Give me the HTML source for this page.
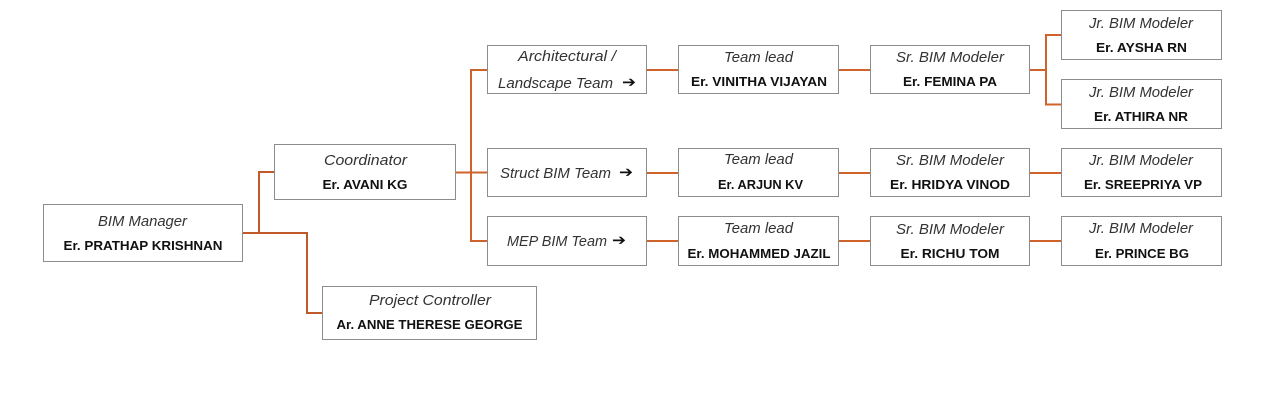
<!DOCTYPE html>
<html><head><meta charset="utf-8">
<style>
html,body{margin:0;padding:0;background:#fff;width:1280px;height:401px;overflow:hidden}
svg{display:block}
.b{fill:#fff;stroke:#8c8c8c;stroke-width:1}
.l{fill:none;stroke:#cf632c;stroke-width:2}
.d{fill:none;stroke:#c05a2a;stroke-width:2}
text{font-family:"Liberation Sans",sans-serif;fill:#222}
.i{font-style:italic;font-size:15px;fill:#333}
.s{font-weight:bold;font-size:13px;fill:#111}
.a{font-family:"DejaVu Sans",sans-serif;font-size:15px;font-weight:bold;fill:#111}
</style></head><body>
<svg width="1280" height="401" viewBox="0 0 1280 401" xmlns="http://www.w3.org/2000/svg">
<path class="d" d="M243 233H307V313H322"/>
<path class="d" d="M259 233V172H274"/>
<path class="l" d="M456 172.500H487"/>
<path class="l" d="M487 70H471V241H487"/>
<path class="l" d="M647 70H678M838 70H870M1030 70H1046"/>
<path class="l" d="M1061 35H1046V104.500H1061"/>
<path class="l" d="M647 173H678M838 173H870M1030 173H1061"/>
<path class="l" d="M647 241H678M838 241H870M1030 241H1061"/>

<rect class="b" x="43.500" y="204.500" width="199" height="57"/>
<rect class="b" x="274.500" y="144.500" width="181" height="55"/>
<rect class="b" x="322.500" y="286.500" width="214" height="53"/>
<rect class="b" x="487.500" y="45.500" width="159" height="48"/>
<rect class="b" x="487.500" y="148.500" width="159" height="48"/>
<rect class="b" x="487.500" y="216.500" width="159" height="49"/>
<rect class="b" x="678.500" y="45.500" width="160" height="48"/>
<rect class="b" x="678.500" y="148.500" width="160" height="48"/>
<rect class="b" x="678.500" y="216.500" width="160" height="49"/>
<rect class="b" x="870.500" y="45.500" width="159" height="48"/>
<rect class="b" x="870.500" y="148.500" width="159" height="48"/>
<rect class="b" x="870.500" y="216.500" width="159" height="49"/>
<rect class="b" x="1061.500" y="10.500" width="160" height="49"/>
<rect class="b" x="1061.500" y="79.500" width="160" height="49"/>
<rect class="b" x="1061.500" y="148.500" width="160" height="48"/>
<rect class="b" x="1061.500" y="216.500" width="160" height="49"/>

<text class="i" x="98" y="226" textLength="89" lengthAdjust="spacingAndGlyphs">BIM Manager</text>
<text class="s" x="63.500" y="250" textLength="159" lengthAdjust="spacingAndGlyphs">Er. PRATHAP KRISHNAN</text>
<text class="i" x="324" y="165" textLength="83" lengthAdjust="spacingAndGlyphs">Coordinator</text>
<text class="s" x="322.500" y="189" textLength="85" lengthAdjust="spacingAndGlyphs">Er. AVANI KG</text>
<text class="i" x="369" y="305" textLength="122" lengthAdjust="spacingAndGlyphs">Project Controller</text>
<text class="s" x="336.500" y="329" textLength="186" lengthAdjust="spacingAndGlyphs">Ar. ANNE THERESE GEORGE</text>

<text class="i" x="518" y="61" textLength="98" lengthAdjust="spacingAndGlyphs">Architectural /</text>
<text class="i" x="498" y="88" textLength="115" lengthAdjust="spacingAndGlyphs">Landscape Team</text>
<text class="a" x="622" y="87" textLength="14" lengthAdjust="spacingAndGlyphs">➔</text>
<text class="i" x="500" y="178" textLength="111" lengthAdjust="spacingAndGlyphs">Struct BIM Team</text>
<text class="a" x="619" y="177" textLength="14" lengthAdjust="spacingAndGlyphs">➔</text>
<text class="i" x="507" y="246" textLength="100" lengthAdjust="spacingAndGlyphs">MEP BIM Team</text>
<text class="a" x="612" y="245" textLength="14" lengthAdjust="spacingAndGlyphs">➔</text>

<text class="i" x="724" y="62" textLength="69" lengthAdjust="spacingAndGlyphs">Team lead</text>
<text class="s" x="691" y="86" textLength="136" lengthAdjust="spacingAndGlyphs">Er. VINITHA VIJAYAN</text>
<text class="i" x="724" y="164" textLength="69" lengthAdjust="spacingAndGlyphs">Team lead</text>
<text class="s" x="718" y="189" textLength="85" lengthAdjust="spacingAndGlyphs">Er. ARJUN KV</text>
<text class="i" x="724" y="233" textLength="69" lengthAdjust="spacingAndGlyphs">Team lead</text>
<text class="s" x="687.500" y="258" textLength="143" lengthAdjust="spacingAndGlyphs">Er. MOHAMMED JAZIL</text>

<text class="i" x="896" y="62" textLength="108" lengthAdjust="spacingAndGlyphs">Sr. BIM Modeler</text>
<text class="s" x="903" y="86" textLength="94" lengthAdjust="spacingAndGlyphs">Er. FEMINA PA</text>
<text class="i" x="896" y="165" textLength="108" lengthAdjust="spacingAndGlyphs">Sr. BIM Modeler</text>
<text class="s" x="890" y="189" textLength="120" lengthAdjust="spacingAndGlyphs">Er. HRIDYA VINOD</text>
<text class="i" x="896" y="234" textLength="108" lengthAdjust="spacingAndGlyphs">Sr. BIM Modeler</text>
<text class="s" x="900.500" y="258" textLength="99" lengthAdjust="spacingAndGlyphs">Er. RICHU TOM</text>

<text class="i" x="1089" y="28" textLength="104" lengthAdjust="spacingAndGlyphs">Jr. BIM Modeler</text>
<text class="s" x="1096" y="52" textLength="91" lengthAdjust="spacingAndGlyphs">Er. AYSHA RN</text>
<text class="i" x="1089" y="97" textLength="104" lengthAdjust="spacingAndGlyphs">Jr. BIM Modeler</text>
<text class="s" x="1094" y="121" textLength="94" lengthAdjust="spacingAndGlyphs">Er. ATHIRA NR</text>
<text class="i" x="1089" y="165" textLength="104" lengthAdjust="spacingAndGlyphs">Jr. BIM Modeler</text>
<text class="s" x="1084" y="189" textLength="118" lengthAdjust="spacingAndGlyphs">Er. SREEPRIYA VP</text>
<text class="i" x="1089" y="233" textLength="104" lengthAdjust="spacingAndGlyphs">Jr. BIM Modeler</text>
<text class="s" x="1095" y="258" textLength="94" lengthAdjust="spacingAndGlyphs">Er. PRINCE BG</text>
</svg>
</body></html>
